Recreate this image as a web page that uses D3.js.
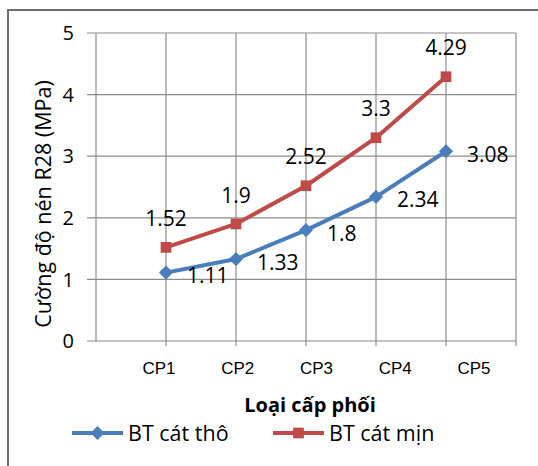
<!DOCTYPE html>
<html>
<head>
  <meta charset="utf-8">
  <script src="https://d3js.org/d3.v7.min.js"></script>
  <style type="text/css">
    body { margin: 0; background: #fff; }
    text { font-family: "Open Sans", sans-serif; fill: #000; }
  </style>
</head>
<body>
  <script type="text/javascript">
    // chart data
    var categories = ["CP1", "CP2", "CP3", "CP4", "CP5"];
    var coarseValues = [1.11, 1.33, 1.8, 2.34, 3.08];   // BT cát thô
    var fineValues = [1.52, 1.9, 2.52, 3.3, 4.29];      // BT cát mịn
    var yTicks = [0, 1, 2, 3, 4, 5];
    var seriesNames = ["BT cát thô", "BT cát mịn"];

    var width = 538,
        height = 466;

    var svg = d3.select("body")
      .append("svg")
        .attr("width", width)
        .attr("height", height);

    // outer chart border (runs off the right/bottom edge)
    svg.append("rect")
      .attr("x", 8).attr("y", 10)
      .attr("width", 560).attr("height", 500)
      .attr("fill", "none")
      .attr("stroke", "#6e6e6e")
      .attr("stroke-width", 2);

    // x is an index scale: gridlines at 0..6, points at 1..5
    var x = d3.scaleLinear().domain([0, 6]).range([96, 516]);
    var y = d3.scaleLinear().domain([0, 5]).range([341, 33]);
    // the category labels sit a bit off the points in the original
    var xLabel = d3.scalePoint().domain(categories).range([x(0.9), x(5.4)]);

    var grid = svg.append("g").attr("class", "grid");

    // horizontal gridlines
    grid.selectAll("line.h")
      .data(yTicks)
      .enter().append("line")
        .attr("class", "h")
        .attr("x1", x(0) - 9).attr("x2", x(6))
        .attr("y1", function (d) { return y(d); })
        .attr("y2", function (d) { return y(d); })
        .attr("stroke", "#8c8c8c")
        .attr("stroke-width", 1.2);

    // vertical gridlines
    grid.selectAll("line.v")
      .data(d3.range(0, 7))
      .enter().append("line")
        .attr("class", "v")
        .attr("x1", function (d) { return x(d); })
        .attr("x2", function (d) { return x(d); })
        .attr("y1", y(5))
        .attr("y2", function (d) { return d === 0 ? y(0) : y(0) + 5; })
        .attr("stroke", "#8c8c8c")
        .attr("stroke-width", 1.2);

    // y tick labels
    svg.selectAll("text.ytick")
      .data(yTicks)
      .enter().append("text")
        .attr("class", "ytick")
        .attr("x", x(0) - 22)
        .attr("y", function (d) { return y(d); })
        .attr("dy", "0.36em")
        .attr("text-anchor", "end")
        .style("font-size", "20px")
        .text(function (d) { return d; });

    // x tick labels
    svg.selectAll("text.xtick")
      .data(categories)
      .enter().append("text")
        .attr("class", "xtick")
        .attr("x", function (d) { return xLabel(d); })
        .attr("y", 374)
        .attr("text-anchor", "middle")
        .style("font-family", "'Liberation Sans', Arial, sans-serif")
        .style("font-size", "17px")
        .text(function (d) { return d; });

    // axis titles
    svg.append("text")
      .attr("x", 310)
      .attr("y", 412)
      .attr("text-anchor", "middle")
      .style("font-size", "20px")
      .style("font-weight", "bold")
      .text("Loại cấp phối");

    svg.append("text")
      .attr("transform", "translate(51,204) rotate(-90)")
      .attr("text-anchor", "middle")
      .style("font-size", "21.5px")
      .text("Cường độ nén R28 (MPa)");

    var line = d3.line()
      .x(function (d, i) { return x(i + 1); })
      .y(function (d) { return y(d); });

    // Excel's diamond is a square turned 45 degrees
    var diamond = d3.symbol().type(d3.symbolSquare).size(100);
    var square = d3.symbol().type(d3.symbolSquare).size(115);

    var series = [
      { name: seriesNames[0], values: coarseValues, color: "#4a7ebb", marker: diamond, rot: 45 },
      { name: seriesNames[1], values: fineValues, color: "#be4b48", marker: square, rot: 0 }
    ];

    series.forEach(function (s) {
      svg.append("path")
        .datum(s.values)
        .attr("d", line)
        .attr("fill", "none")
        .attr("stroke", s.color)
        .attr("stroke-width", 4)
        .attr("stroke-linejoin", "round");

      svg.selectAll(null)
        .data(s.values)
        .enter().append("path")
          .attr("d", s.marker)
          .attr("transform", function (d, i) {
            return "translate(" + x(i + 1) + "," + y(d) + ") rotate(" + s.rot + ")";
          })
          .attr("fill", s.color);
    });

    // data labels: blue on the right, red above
    svg.selectAll("text.lblc")
      .data(coarseValues)
      .enter().append("text")
        .attr("class", "lblc")
        .attr("x", function (d, i) { return x(i + 1) + 21; })
        .attr("y", function (d) { return y(d) + 3; })
        .attr("dy", "0.36em")
        .style("font-size", "21px")
        .text(function (d) { return d; });

    svg.selectAll("text.lblf")
      .data(fineValues)
      .enter().append("text")
        .attr("class", "lblf")
        .attr("x", function (d, i) { return x(i + 1); })
        .attr("y", function (d) { return y(d) - 29; })
        .attr("dy", "0.36em")
        .attr("text-anchor", "middle")
        .style("font-size", "21px")
        .text(function (d) { return d; });

    // legend
    var legend = svg.append("g").attr("transform", "translate(0,433)");
    var legendX = [72, 273];
    series.forEach(function (s, i) {
      var g = legend.append("g").attr("transform", "translate(" + legendX[i] + ",0)");
      g.append("line")
        .attr("x1", 0).attr("x2", 51)
        .attr("stroke", s.color)
        .attr("stroke-width", 4);
      g.append("path")
        .attr("d", s.marker)
        .attr("transform", "translate(25.5,0) rotate(" + s.rot + ")")
        .attr("fill", s.color);
      g.append("text")
        .attr("x", 56)
        .attr("dy", "0.36em")
        .style("font-size", "21.5px")
        .text(s.name);
    });
  </script>
</body>
</html>
